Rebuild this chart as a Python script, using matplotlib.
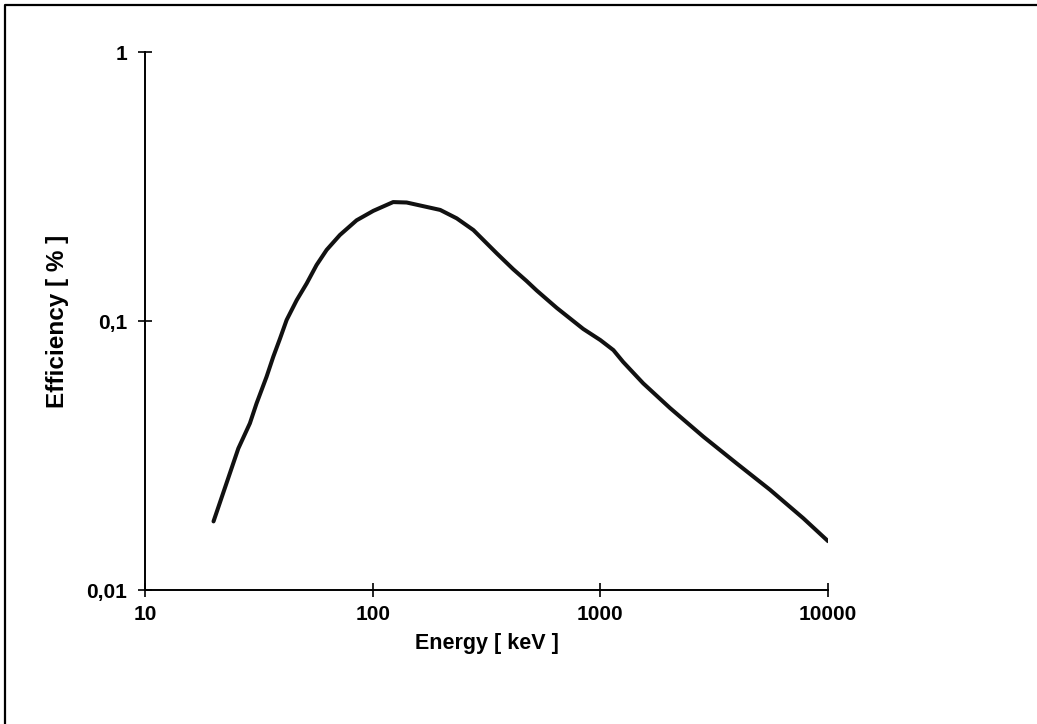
import matplotlib
matplotlib.use("Agg")
import matplotlib.pyplot as plt
from matplotlib.lines import Line2D

plt.rcParams['font.family'] = ['Liberation Sans', 'DejaVu Sans']
plt.rcParams['font.weight'] = 'bold'

energy_kev = [20, 25.7, 28.9, 30.9, 34.2, 36.6, 39.2, 41.9, 46.4, 51.3, 56.7, 62.8, 71.8,
              85, 100.7, 123, 141, 198, 234, 277, 351, 414, 474, 525, 643, 841, 1000,
              1141, 1259, 1542, 2023, 2832, 3963, 5560, 7780, 10000]
efficiency = [0.018, 0.0336, 0.0417, 0.0494, 0.0621, 0.0737, 0.0862, 0.101, 0.1197, 0.138,
              0.1616, 0.184, 0.209, 0.237, 0.257, 0.277, 0.276, 0.259, 0.241, 0.218, 0.1785,
              0.156, 0.141, 0.130, 0.112, 0.0935, 0.085, 0.078, 0.0705, 0.0587, 0.0475,
              0.0372, 0.0296, 0.0236, 0.0185, 0.0152]

x_ticks = [10, 100, 1000, 10000]
x_labels = ["10", "100", "1000", "10000"]
y_ticks = [0.01, 0.1, 1]
y_labels = ["0,01", "0,1", "1"]

fig = plt.figure(figsize=(10.37, 7.24), dpi=100)
ax = fig.add_axes([0.1398, 0.185, 0.6587, 0.743])

ax.plot(energy_kev, efficiency, color='#111111', lw=2.9, solid_capstyle='round',
        solid_joinstyle='round')

ax.set_xscale('log')
ax.set_yscale('log')
ax.set_xlim(10, 10000)
ax.set_ylim(0.01, 1)
ax.set_xticks(x_ticks)
ax.set_xticklabels(x_labels)
ax.set_yticks(y_ticks)
ax.set_yticklabels(y_labels)
ax.minorticks_off()

for s in ['top', 'right']:
    ax.spines[s].set_visible(False)
for s in ['left', 'bottom']:
    ax.spines[s].set_linewidth(1.4)
    ax.spines[s].set_color('black')

ax.tick_params(axis='both', which='major', direction='inout', length=10, width=1.2,
               labelsize=15, colors='black')
ax.tick_params(axis='x', pad=6)
ax.tick_params(axis='y', pad=8)
for lab in ax.get_xticklabels() + ax.get_yticklabels():
    lab.set_fontweight('bold')

ax.set_xlabel("Energy [ keV ]", fontsize=15.5, fontweight='bold', labelpad=6)
ax.set_ylabel("Efficiency [ % ]", fontsize=17.5, fontweight='bold', labelpad=12)

# outer border (left and top edges visible)
fig.add_artist(Line2D([5/1037, 5/1037, 1.0], [0.0, 1 - 5/724, 1 - 5/724],
                      transform=fig.transFigure, color='black', lw=1.6))

fig.savefig("out.png", dpi=100, facecolor='white')
